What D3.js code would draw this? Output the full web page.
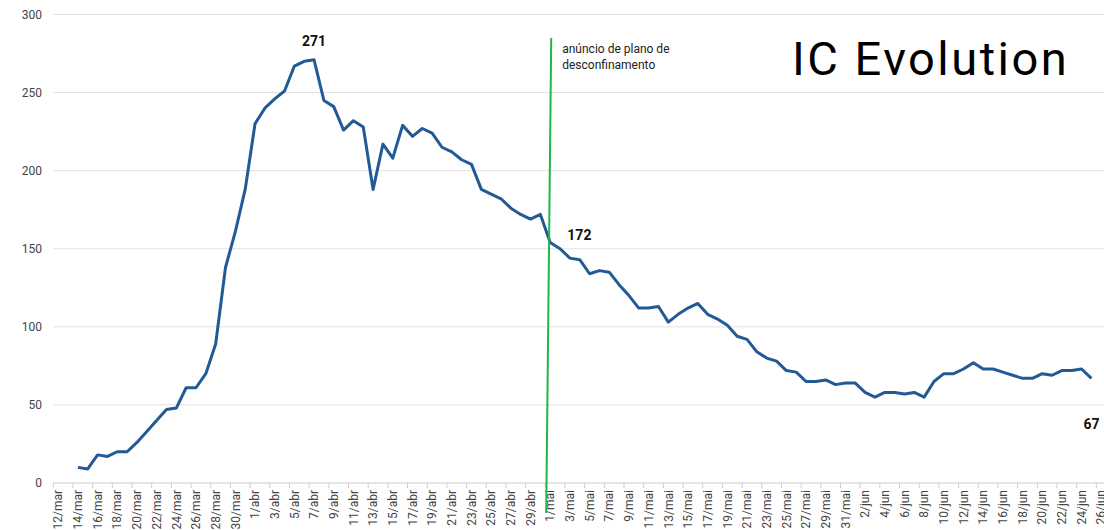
<!doctype html>
<html lang="pt">
<head>
    <meta charset="UTF-8">
    <title>IC Evolution</title>
    <script src="https://cdn.jsdelivr.net/npm/d3@7"></script>
    <style>
        body { margin: 0; background: #fff; }
        text { font-family: Roboto, "Noto Sans", sans-serif; }
    </style>
</head>
<body>
    <script>
        // valores diarios (IC), a partir de 14/mar
        var marValues = [10, 9, 18, 17, 20, 20, 26, 33, 40, 47, 48, 61, 61, 70, 89, 138, 161, 188];
        var abrValues = [230, 240, 246, 251, 267, 270, 271, 245, 241, 226, 232, 228, 188, 217, 208,
                         229, 222, 227, 224, 215, 212, 207, 204, 188, 185, 182, 176, 172, 169, 172];
        var maiValues = [154, 150, 144, 143, 134, 136, 135, 127, 120, 112, 112, 113, 103, 108, 112, 115,
                         108, 105, 101, 94, 92, 84, 80, 78, 72, 71, 65, 65, 66, 63, 64];
        var junValues = [64, 58, 55, 58, 58, 57, 58, 55, 65, 70, 70, 73, 77, 73, 73, 71, 69, 67, 67,
                         70, 69, 72, 72, 73, 67];
        var monthNames = ["jan", "fev", "mar", "abr", "mai", "jun"];
        var firstDataLabel = "14/mar";
        var yTicks = [0, 50, 100, 150, 200, 250, 300];
        var announceLabel = "1/mai";
        var announceText = ["anúncio de plano de", "desconfinamento"];
        var title = "IC Evolution";

        var categories = d3.timeDay.range(new Date(2020, 2, 12), new Date(2020, 5, 27))
            .map(function(d){ return d.getDate() + "/" + monthNames[d.getMonth()]; });
        var tickLabels = categories.filter(function(d, i){ return i % 2 === 0; });

        var values = marValues.concat(abrValues, maiValues, junValues);
        var start = categories.indexOf(firstDataLabel);
        var data = values.map(function(v, i){ return { day: categories[start + i], value: v }; });

        var width = 1104,
            height = 530,
            left = 53.3,
            dayWidth = 9.84;

        var svg = d3.select("body").append("svg")
                    .attr("width", width)
                    .attr("height", height);

        var x = d3.scaleBand()
            .domain(categories)
            .range([left, left + categories.length * dayWidth]);
        var y = d3.scaleLinear().domain([0, 300]).range([483, 14.5]);
        var cx = function(d){ return x(d) + x.bandwidth() / 2; };

        // grelha
        svg.selectAll("line.grid")
            .data(yTicks)
            .enter()
            .append("line")
            .attr("class", "grid")
            .attr("x1", left)
            .attr("x2", width)
            .attr("y1", function(d){ return y(d); })
            .attr("y2", function(d){ return y(d); })
            .attr("stroke", function(d){ return d === 0 ? "#cccccc" : "#e0e0e0"; })
            .attr("stroke-width", 1);

        svg.selectAll("text.ylab")
            .data(yTicks)
            .enter()
            .append("text")
            .attr("class", "ylab")
            .attr("x", 42)
            .attr("y", function(d){ return y(d); })
            .attr("dy", "0.35em")
            .attr("text-anchor", "end")
            .attr("font-size", 12)
            .attr("fill", "#444")
            .text(function(d){ return d; });

        // eixo x
        svg.selectAll("line.xtick")
            .data(tickLabels)
            .enter()
            .append("line")
            .attr("class", "xtick")
            .attr("x1", function(d){ return x(d); })
            .attr("x2", function(d){ return x(d); })
            .attr("y1", y(0))
            .attr("y2", y(0) + 5)
            .attr("stroke", "#cccccc");

        svg.selectAll("text.xlab")
            .data(tickLabels)
            .enter()
            .append("text")
            .attr("class", "xlab")
            .attr("transform", function(d){ return "translate(" + cx(d) + "," + (y(0) + 7) + ") rotate(-90)"; })
            .attr("dy", "0.35em")
            .attr("text-anchor", "end")
            .attr("font-size", 12)
            .attr("fill", "#444")
            .text(function(d){ return d; });

        // linha
        var line = d3.line()
            .x(function(d){ return cx(d.day); })
            .y(function(d){ return y(d.value); });

        svg.append("path")
            .datum(data)
            .attr("d", line)
            .attr("fill", "none")
            .attr("stroke", "#225a95")
            .attr("stroke-width", 3)
            .attr("stroke-linejoin", "round");

        // anuncio
        var ax = cx(announceLabel);
        svg.append("line")
            .attr("x1", ax + 1)
            .attr("y1", 38)
            .attr("x2", ax - 4)
            .attr("y2", 513)
            .attr("stroke", "#22b64a")
            .attr("stroke-width", 2);

        svg.selectAll("text.note")
            .data(announceText)
            .enter()
            .append("text")
            .attr("class", "note")
            .attr("x", ax + 12)
            .attr("y", function(d, i){ return 53 + i * 16; })
            .attr("font-size", 12)
            .attr("fill", "#222")
            .text(function(d){ return d; });

        // rotulos de valores
        var peak = data.reduce(function(a, b){ return b.value > a.value ? b : a; });
        var preAnnounce = data[data.findIndex(function(d){ return d.day === announceLabel; }) - 1];
        var last = data[data.length - 1];
        var labels = [
            { text: peak.value, x: cx(peak.day), y: y(peak.value) - 14 },
            { text: preAnnounce.value, x: cx(preAnnounce.day) + 39, y: y(preAnnounce.value) + 26 },
            { text: last.value, x: cx(last.day), y: y(last.value) + 51 }
        ];
        svg.selectAll("text.val")
            .data(labels)
            .enter()
            .append("text")
            .attr("class", "val")
            .attr("x", function(d){ return d.x; })
            .attr("y", function(d){ return d.y; })
            .attr("text-anchor", "middle")
            .attr("font-size", 14)
            .attr("font-weight", "bold")
            .attr("fill", "#111")
            .text(function(d){ return d.text; });

        svg.append("text")
            .attr("x", 792)
            .attr("y", 75)
            .attr("font-size", 47)
            .attr("letter-spacing", 2.5)
            .attr("fill", "#000")
            .text(title);
    </script>
</body>
</html>
